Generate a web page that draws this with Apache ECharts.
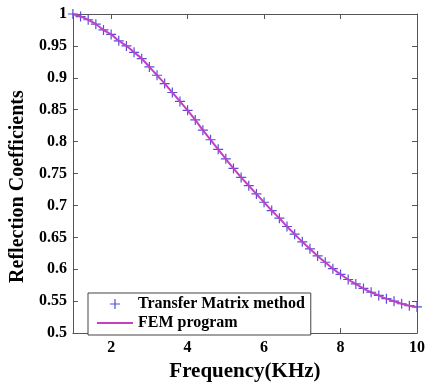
<!DOCTYPE html>
<html>
<head>
<meta charset="utf-8">
<script src="https://cdn.jsdelivr.net/npm/echarts@6/dist/echarts.min.js"></script>
<style>
html,body{margin:0;padding:0;background:#fff;}
#chart{width:428px;height:387px;}
</style>
</head>
<body>
<div id="chart"></div>
<script>
var frequency = [1.0,1.2,1.4,1.6,1.8,2.0,2.2,2.4,2.6,2.8,3.0,3.2,3.4,3.6,3.8,4.0,4.2,4.4,4.6,4.8,5.0,5.2,5.4,5.6,5.8,6.0,6.2,6.4,6.6,6.8,7.0,7.2,7.4,7.6,7.8,8.0,8.2,8.4,8.6,8.8,9.0,9.2,9.4,9.6,9.8,10.0];
var transferMatrix = [1.000,0.996,0.991,0.984,0.975,0.968,0.958,0.950,0.940,0.930,0.917,0.904,0.891,0.877,0.863,0.849,0.834,0.818,0.803,0.788,0.773,0.758,0.744,0.731,0.718,0.705,0.692,0.680,0.667,0.655,0.643,0.632,0.621,0.611,0.601,0.592,0.584,0.577,0.570,0.564,0.559,0.554,0.550,0.546,0.543,0.541];
var femProgram = [1.000,0.996,0.991,0.984,0.975,0.968,0.958,0.950,0.940,0.930,0.917,0.904,0.891,0.877,0.863,0.849,0.834,0.818,0.803,0.788,0.773,0.758,0.744,0.731,0.718,0.705,0.692,0.680,0.667,0.655,0.643,0.632,0.621,0.611,0.601,0.592,0.584,0.577,0.570,0.564,0.559,0.554,0.550,0.546,0.543,0.541];
var xTicks = [2,4,6,8,10];
var seriesNames = ['Transfer Matrix method','FEM program'];

var plusPath = 'path://M4.4,0 H5.6 V4.4 H10 V5.6 H5.6 V10 H4.4 V5.6 H0 V4.4 H4.4 Z';
var linePath = 'path://M0,0 H36 V2 H0 Z';
var font = '"Liberation Serif", "Times New Roman", serif';
var frameColor = '#555';

function pairs(xs, ys){ return xs.map(function(x,i){ return [x, ys[i]]; }); }

var chart = echarts.init(document.getElementById('chart'));
chart.setOption({
  animation:false,
  backgroundColor:'#fff',
  grid:{left:71,right:3,top:14,bottom:44,containLabel:false},
  legend:{
    orient:'vertical',
    left:88, top:293,
    backgroundColor:'#fff',
    borderColor:'#444', borderWidth:1,
    padding:[3,6,4,9],
    itemWidth:36, itemHeight:10, itemGap:3,
    textStyle:{fontFamily:font,fontWeight:'bold',fontSize:16,color:'#000'},
    data:[{name:seriesNames[0],icon:plusPath},{name:seriesNames[1],icon:linePath}]
  },
  xAxis:[{
    type:'value', min:1, max:10, position:'bottom',
    name:'Frequency(KHz)', nameLocation:'middle', nameGap:21,
    nameTextStyle:{fontFamily:font,fontWeight:'bold',fontSize:21,color:'#000'},
    axisLine:{show:true,onZero:false,lineStyle:{color:frameColor,width:1}},
    axisTick:{show:true,inside:true,length:5,customValues:xTicks,lineStyle:{color:frameColor}},
    axisLabel:{show:true,margin:7,customValues:xTicks,fontFamily:font,fontWeight:'bold',fontSize:16,color:'#000'},
    splitLine:{show:false}
  },{
    type:'value', min:1, max:10, position:'top',
    axisLine:{show:true,onZero:false,lineStyle:{color:frameColor,width:1}},
    axisTick:{show:true,inside:true,length:5,customValues:xTicks,lineStyle:{color:frameColor}},
    axisLabel:{show:false},
    splitLine:{show:false}
  }],
  yAxis:[{
    type:'value', min:0.5, max:1, interval:0.05, position:'left',
    name:'Reflection Coefficients', nameLocation:'middle', nameGap:37,
    nameTextStyle:{fontFamily:font,fontWeight:'bold',fontSize:20,color:'#000',padding:[0,26,0,0]},
    axisLine:{show:true,onZero:false,lineStyle:{color:frameColor,width:1}},
    axisTick:{show:true,inside:true,length:5,lineStyle:{color:frameColor}},
    axisLabel:{show:true,margin:6,fontFamily:font,fontWeight:'bold',fontSize:16,color:'#000'},
    splitLine:{show:false}
  },{
    type:'value', min:0.5, max:1, interval:0.05, position:'right',
    axisLine:{show:true,onZero:false,lineStyle:{color:frameColor,width:1}},
    axisTick:{show:true,inside:true,length:5,lineStyle:{color:frameColor}},
    axisLabel:{show:false},
    splitLine:{show:false}
  }],
  series:[{
    name:seriesNames[0], type:'scatter', xAxisIndex:0, yAxisIndex:0,
    symbol:plusPath, symbolSize:10,
    itemStyle:{color:'#5050dc',opacity:1},
    data:pairs(frequency, transferMatrix)
  },{
    name:seriesNames[1], type:'line', xAxisIndex:0, yAxisIndex:0,
    symbol:'none', smooth:true,
    lineStyle:{color:'#c23fc6',width:2},
    itemStyle:{color:'#c23fc6'},
    data:pairs(frequency, femProgram)
  }]
});
</script>
</body>
</html>
